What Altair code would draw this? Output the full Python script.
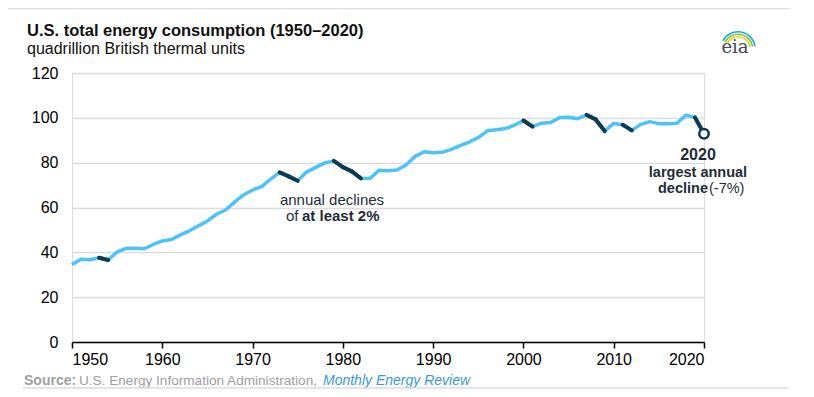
import altair as alt
import pandas as pd

years = list(range(1950, 2021))
consumption = [34.6, 36.9, 36.7, 37.6, 36.6, 40.2, 41.8, 41.8, 41.6, 43.5,
               45.1, 45.7, 47.8, 49.6, 51.8, 54.0, 57.0, 58.9, 62.4, 65.6,
               67.8, 69.3, 72.7, 75.7, 73.9, 71.9, 75.9, 77.9, 79.9, 80.8,
               78.0, 76.1, 73.0, 72.9, 76.6, 76.4, 76.7, 79.0, 82.8, 84.9,
               84.4, 84.6, 85.9, 87.6, 89.2, 91.2, 94.2, 94.7, 95.2, 96.7,
               98.8, 96.1, 97.6, 97.9, 100.1, 100.3, 99.6, 101.3, 99.3, 94.1,
               97.5, 96.9, 94.4, 97.1, 98.3, 97.4, 97.4, 97.6, 101.2, 100.2,
               92.9]
# years ending an annual decline of at least 2%
decline_years = [1954, 1974, 1975, 1980, 1981, 1982, 2001, 2008, 2009, 2012, 2020]

x_ticks = [1950, 1960, 1970, 1980, 1990, 2000, 2010, 2020]
y_ticks = [0, 20, 40, 60, 80, 100, 120]

LIGHT = "#4ec3f7"
DARK = "#0b3a52"
FONT = "Liberation Sans"

df = pd.DataFrame({"year": years, "value": consumption})
val = dict(zip(years, consumption))
seg_rows = []
for i, y in enumerate(decline_years):
    seg_rows.append({"year": y - 1, "value": val[y - 1], "seg": i})
    seg_rows.append({"year": y, "value": val[y], "seg": i})
seg = pd.DataFrame(seg_rows)
last = df[df.year == 2020]

xs = alt.X("year:Q", scale=alt.Scale(domain=[1950, 2020], nice=False, zero=False),
           axis=alt.Axis(values=x_ticks, format="d", title=None, grid=False,
                         domainColor="#000", tickColor="#000", tickSize=6,
                         labelFontSize=16, labelFont=FONT, labelColor="#000",
                         labelPadding=3, domainWidth=1.5, tickWidth=1.5))
ys = alt.Y("value:Q", scale=alt.Scale(domain=[0, 120], nice=False),
           axis=alt.Axis(values=y_ticks, title=None, domain=False, ticks=False,
                         gridColor="#dcdcdc", gridWidth=1.5,
                         labelFontSize=16, labelFont=FONT, labelColor="#000",
                         labelPadding=14))

base_line = alt.Chart(df).mark_line(color=LIGHT, strokeWidth=3.5, strokeJoin="round").encode(x=xs, y=ys)
dark_line = alt.Chart(seg).mark_line(color=DARK, strokeWidth=4, strokeCap="round").encode(
    x="year:Q", y="value:Q", detail="seg:N")
pt = alt.Chart(last).mark_point(shape="circle", filled=True, fill="#f4f6f8", stroke=DARK,
                                strokeWidth=2.5, size=90, opacity=1).encode(x="year:Q", y="value:Q")

one = pd.DataFrame({"a": [0]})

def txt(text, x, y, size=15, weight="normal", color="#1f2d3a", align="center", style="normal", font=FONT):
    return alt.Chart(pd.DataFrame({"t": [text]})).mark_text(
        fontSize=size, fontWeight=weight, color=color, align=align, font=font,
        fontStyle=style, baseline="alphabetic").encode(
        text="t:N", x=alt.value(x), y=alt.value(y))

annots = [
    txt("annual declines", 260, 132, size=15),
    txt("of ", 214, 148, size=15, align="left"),
    txt("at least 2%", 230, 148, size=15, weight="bold", align="left"),
    txt("2020", 626, 87, size=16, weight="bold"),
    txt("largest annual", 626, 104, size=14.5, weight="bold"),
    txt("decline", 611, 120, size=14.5, weight="bold", align="center"),
    txt("(-7%)", 637, 120, size=14.5, align="left"),
    txt("U.S. total energy consumption (1950\u20132020)", -45, -37, size=16.5, weight="bold", color="#111", align="left"),
    txt("quadrillion British thermal units", -45, -19, size=16, color="#111", align="left"),
    txt("Source:", -48, 312, size=14, weight="bold", color="#a0a0a0", align="left"),
    txt("U.S. Energy Information Administration,", 7, 312, size=13.6, color="#a0a0a0", align="left"),
    txt("Monthly Energy Review", 251, 312, size=14, color="#3a9ad9", align="left", style="italic"),
    txt("eia", 663, -20, size=18, color="#3d4a5c", align="center", font="DejaVu Serif"),
]

logo = [
    alt.Chart(one).mark_arc(color=c).encode(
        x=alt.value(666), y=alt.value(-24), theta=alt.value(5.2), theta2=alt.value(7.7),
        radius=alt.value(r), radius2=alt.value(r - 1.6))
    for c, r in [("#f2cf1f", 13), ("#7cc243", 15.5), ("#2aa7e0", 18)]
]

frame = [
    alt.Chart(one).mark_rule(color="#dddddd", strokeWidth=1.5).encode(
        x=alt.value(-72), x2=alt.value(718), y=alt.value(-64.5)),
    alt.Chart(one).mark_rule(color="#dddddd", strokeWidth=1.5).encode(
        x=alt.value(-49), x2=alt.value(716), y=alt.value(315)),
]

chart = alt.layer(base_line, dark_line, pt, *annots, *logo, *frame).properties(
    width=632, height=269,
    autosize=alt.AutoSizeParams(type="none"),
    padding={"left": 64, "top": 65, "right": 102, "bottom": 47},
).configure_view(stroke=None).configure(background="white")

chart.save("out.html", embed_options={"renderer": "svg", "actions": False})
